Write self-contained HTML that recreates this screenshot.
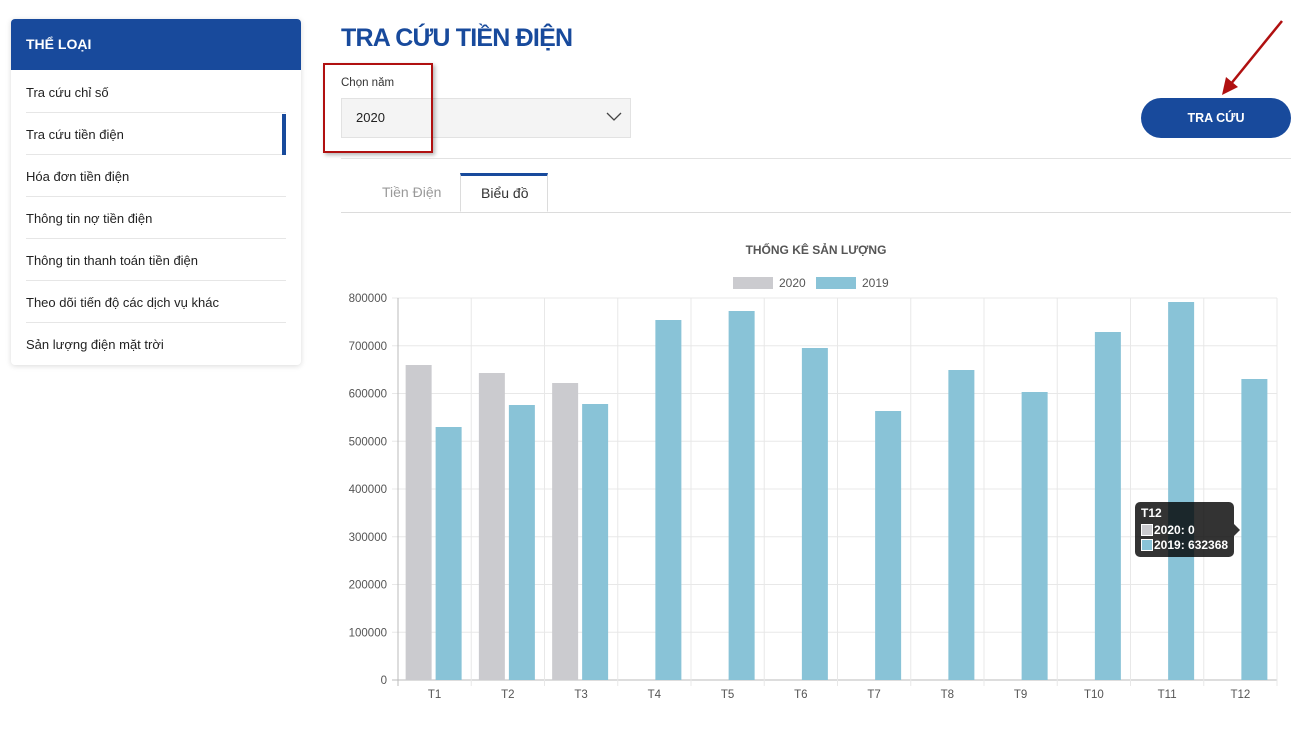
<!DOCTYPE html>
<html><head><meta charset="utf-8"><style>
body{margin:0;width:1305px;height:730px;background:#fff;font-family:"Liberation Sans","DejaVu Sans",sans-serif;position:relative;overflow:hidden}
.a{position:absolute}
.side{left:11px;top:19px;width:290px;height:346px;background:#fff;box-shadow:0 1px 6px rgba(0,0,0,.15);border-radius:4px}
.hd{left:0;top:0;width:290px;height:51px;background:#184a9c;border-radius:4px 4px 0 0;color:#fff;font-weight:bold;font-size:14px;line-height:51px;text-indent:15px}
.it{left:15px;width:260px;height:41px;border-bottom:1px solid #e6e6e6;font-size:13px;color:#222;line-height:43px}
</style></head><body>
<div class="a side">
<div class="a hd">THỂ LOẠI</div>
<div class="a it" style="top:52px">Tra cứu chỉ số</div>
<div class="a it" style="top:94px">Tra cứu tiền điện</div>
<div class="a" style="left:271px;top:95px;width:4px;height:41px;background:#184a9c"></div>
<div class="a it" style="top:136px">Hóa đơn tiền điện</div>
<div class="a it" style="top:178px">Thông tin nợ tiền điện</div>
<div class="a it" style="top:220px">Thông tin thanh toán tiền điện</div>
<div class="a it" style="top:262px">Theo dõi tiến độ các dịch vụ khác</div>
<div class="a it" style="top:304px;border:none">Sản lượng điện mặt trời</div>
</div>
<div class="a" style="left:341px;top:24px;font-size:25px;font-weight:bold;color:#184a9c;letter-spacing:-0.8px">TRA CỨU TIỀN ĐIỆN</div>
<div class="a" style="left:341px;top:77px;font-size:11.5px;color:#333">Chọn năm</div>
<div class="a" style="left:341px;top:98px;width:288px;height:38px;background:#f4f4f4;border:1px solid #e2e2e2;font-size:13px;color:#222;line-height:38px;text-indent:14px">2020</div>
<svg class="a" style="left:606px;top:112px" width="16" height="10"><path d="M1 1 L8 8 L15 1" stroke="#444" fill="none" stroke-width="1.3"/></svg>
<div class="a" style="left:323px;top:63px;width:106px;height:86px;border:2px solid #b01010;box-shadow:2px 2px 4px rgba(0,0,0,.3)"></div>
<div class="a" style="left:1141px;top:98px;width:150px;height:40px;background:#184a9c;border-radius:20px;color:#fff;font-weight:bold;font-size:12.5px;text-align:center;line-height:40px">TRA CỨU</div>
<svg class="a" style="left:1210px;top:15px" width="80" height="85"><line x1="72" y1="6" x2="20" y2="70" stroke="#b01010" stroke-width="2.5"/><path d="M12 80 L16 62 L28 72 Z" fill="#b01010"/></svg>
<div class="a" style="left:341px;top:158px;width:950px;height:1px;background:#e2e2e2"></div>
<div class="a" style="left:341px;top:212px;width:950px;height:1px;background:#dcdcdc"></div>
<div class="a" style="left:382px;top:184px;font-size:14px;color:#999">Tiền Điện</div>
<div class="a" style="left:460px;top:173px;width:88px;height:39px;background:#fff;border:1px solid #dcdcdc;border-bottom:1px solid #fff;border-top:3px solid #184a9c;box-sizing:border-box"></div>
<div class="a" style="left:481px;top:185px;font-size:14px;color:#333">Biểu đồ</div>
<svg class="a" style="left:0;top:0" width="1305" height="730" font-family="Liberation Sans,DejaVu Sans,sans-serif">
<text x="816" y="254" font-size="12" font-weight="bold" fill="#555" text-anchor="middle">THỐNG KÊ SẢN LƯỢNG</text>
<rect x="733" y="277" width="40" height="12" fill="#cbcbcf"/><text x="779" y="287" font-size="12" fill="#555">2020</text>
<rect x="816" y="277" width="40" height="12" fill="#89c3d7"/><text x="862" y="287" font-size="12" fill="#555">2019</text>
<g id="g"></g>
</svg>
<div class="a" style="left:1135px;top:502px;width:99px;height:55px;background:rgba(0,0,0,.8);border-radius:5px;color:#fff;font-size:12px;font-weight:bold">
<div class="a" style="left:6px;top:4px">T12</div>
<div class="a" style="left:6px;top:22px;width:10px;height:10px;background:#cbcbcf;border:1px solid #fff"></div><div class="a" style="left:19px;top:21px">2020: 0</div>
<div class="a" style="left:6px;top:37px;width:10px;height:10px;background:#89c3d7;border:1px solid #fff"></div><div class="a" style="left:19px;top:36px">2019: 632368</div>
</div>
<div class="a" style="left:1234px;top:524px;width:0;height:0;border-top:6px solid transparent;border-bottom:6px solid transparent;border-left:6px solid rgba(0,0,0,.8)"></div>
<script>
var s='';
var g=document.getElementById('g');
for(var k=0;k<=8;k++){var y=680-k*47.75;s+='<line x1="392" x2="1277" y1="'+y+'" y2="'+y+'" stroke="'+(k==0?'#bbb':'#e8e8e8')+'"/>';
s+='<text x="387" y="'+(y+4)+'" font-size="11.5" fill="#555" text-anchor="end">'+(k*100000)+'</text>';}
var w=73.25;
for(var i=0;i<=12;i++){var x=398+w*i;s+='<line x1="'+x+'" x2="'+x+'" y1="298" y2="686" stroke="'+(i==0?'#bbb':'#e8e8e8')+'"/>';}
var gy=[365,373,383],by=[427,405,404,320,311,348,411,370,392,332,302,379];
for(var i=0;i<12;i++){var c=398+w*(i+0.5);
if(i<3)s+='<rect x="'+(c-29)+'" y="'+gy[i]+'" width="26" height="'+(680-gy[i])+'" fill="#cbcbcf"/>';
s+='<rect x="'+(c+1)+'" y="'+by[i]+'" width="26" height="'+(680-by[i])+'" fill="#89c3d7"/>';
s+='<text x="'+c+'" y="698" font-size="11.5" fill="#555" text-anchor="middle">T'+(i+1)+'</text>';}
g.innerHTML=s;
</script>
</body></html>
